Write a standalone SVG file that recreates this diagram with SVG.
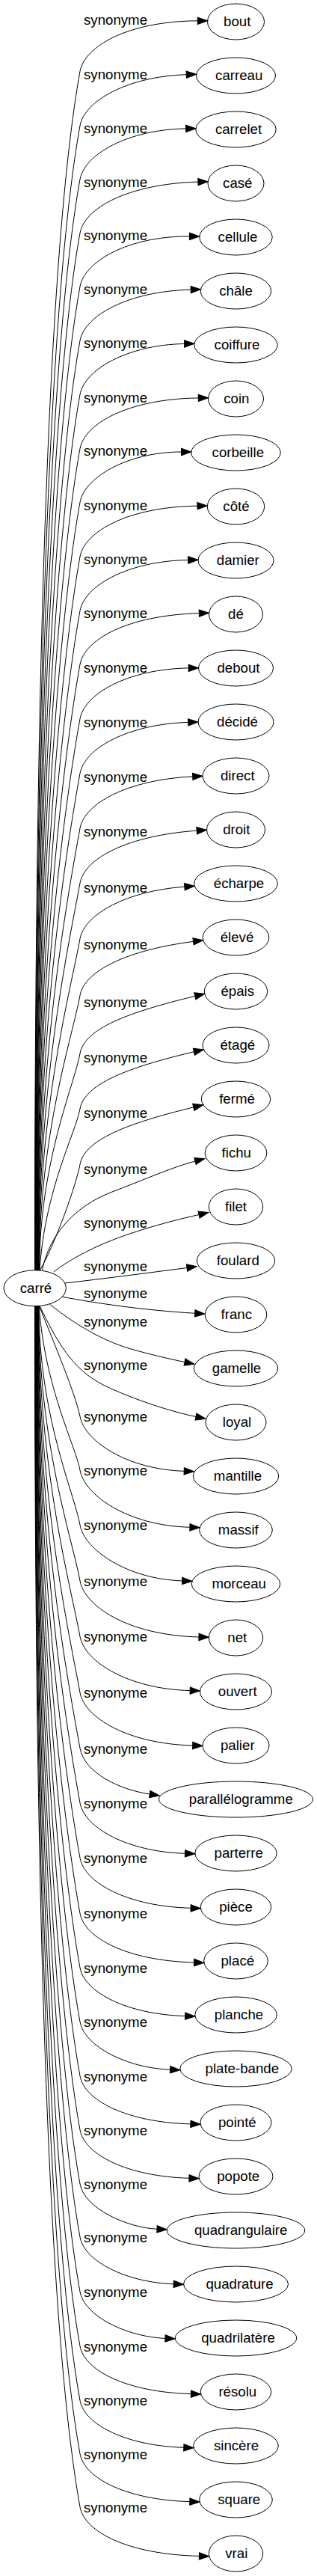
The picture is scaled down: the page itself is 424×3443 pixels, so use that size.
<svg xmlns="http://www.w3.org/2000/svg" width="424" height="3443" viewBox="0 0 424 3443">
<defs>
<style>
.node ellipse{fill:none;stroke:#000;stroke-width:1}
text{font-family:"Liberation Sans",Arial,sans-serif;font-size:18.67px;fill:#000;text-anchor:middle}
.edges path{fill:none;stroke:#000;stroke-width:1;marker-end:url(#arr)}
</style>
<marker id="arr" markerUnits="userSpaceOnUse" markerWidth="14" markerHeight="10" refX="0" refY="4.7" orient="auto" overflow="visible">
<path d="M0,0 L13.3,4.7 L0,9.4 Z" fill="#000" stroke="#000" stroke-width="1"/>
</marker>
</defs>
<rect x="0" y="0" width="424" height="3443" fill="#fff"/>
<g id="edges" class="edges">
<path d="M46.5,1698 C46.5,896.6 64.6,330.9 107,95.3 C113,62.3 170,28.5 264.3,27.8"/>
<path d="M46.9,1698 C46.9,933 66.5,392.9 107,168 C113,135 170,102.3 249.3,99.7"/>
<path d="M47.2,1698 C47.2,968.8 68.4,454.1 107,239.7 C113,206.7 170,173.3 248.6,171.9"/>
<path d="M47.6,1698 C47.6,1004.7 70.3,515.3 107,311.5 C113,278.5 170,245.9 264.9,243.1"/>
<path d="M47.9,1698 C47.9,1040.5 72.2,576.3 107,383 C113,350 170,315.6 253.5,315.9"/>
<path d="M48.3,1698 C48.3,1076.6 74.1,638 107,455.3 C113,422.3 170,389.5 255.2,387.1"/>
<path d="M48.6,1698 C48.6,1112.6 76,699.4 107,527.3 C113,494.3 170,460.9 246.6,459.5"/>
<path d="M49,1698 C49,1148.8 77.9,761.2 107,599.7 C113,566.7 170,533.3 265.3,531.9"/>
<path d="M49.3,1698 C49.3,1184.6 79.8,822.2 107,671.3 C113,638.3 170,604.2 242.5,604"/>
<path d="M49.7,1698 C49.7,1221 81.8,884.2 107,744 C113,711 170,677.6 264,676.2"/>
<path d="M50,1698 C50,1257.1 83.7,945.9 107,816.3 C113,783.3 170,749.9 251.7,748.5"/>
<path d="M50.4,1698 C50.4,1293 85.6,1007.1 107,888 C113,855 170,822.3 266.3,819.7"/>
<path d="M50.7,1698 C50.7,1329.3 87.5,1069.1 107,960.7 C113,927.7 170,894.3 252.2,892.9"/>
<path d="M51,1698 C51,1365.8 89.4,1131.4 107,1033.7 C113,1000.7 170,968 251.7,965.4"/>
<path d="M51.4,1698 C51.4,1402.5 91.4,1193.9 107,1107 C113,1074 170,1042.3 257.7,1037.9"/>
<path d="M51.7,1698 C51.7,1439.1 93.3,1256.4 107,1180.3 C113,1147.3 170,1116.9 263.2,1110.2"/>
<path d="M52,1698 C52,1476.3 95.3,1319.9 107,1254.7 C113,1221.7 170,1190.7 246.9,1185.2"/>
<path d="M52.4,1698 C52.4,1514.2 97.3,1384.5 107,1330.5 C113,1297.5 170,1269.9 258.5,1258.4"/>
<path d="M52.7,1698 C52.7,1553 99.3,1450.6 107,1408 C113,1375 170,1353.3 260.8,1331.4"/>
<path d="M53,1698 C60,1590 101.3,1513.8 107,1482 C113,1449 170,1426.9 259.4,1405.8"/>
<path d="M53.4,1698 C75,1660 103,1580 107,1556.3 C113,1523.3 170,1501.5 258.8,1479.9"/>
<path d="M56.5,1697.5 C66,1650 100,1612 150,1593 C185,1580 230,1560 261,1552"/>
<path d="M71.7,1700 C85,1690 100,1680 130,1666 C165,1650 215,1635 266,1623.5"/>
<path d="M86.7,1715 C140,1709 200,1701 250,1694.5"/>
<path d="M83.3,1733.3 C130,1742 190,1751 260.7,1755.3"/>
<path d="M66.7,1743.3 C90,1762 130,1790 175,1803 C200,1810 225,1816 247,1820.5"/>
<path d="M53.3,1746 C75,1790 95,1830 140,1852 C180,1871 230,1887 262,1893.5"/>
<path d="M52.5,1745.4 C70,1790 100,1860 107,1893 C113,1926 170,1964 246.2,1966.3"/>
<path d="M52.2,1745.4 C60,1855.2 101.2,1932.7 107,1965 C113,1998 170,2039 253.9,2041.3"/>
<path d="M51.9,1745.4 C51.9,1891.9 99.2,1995.2 107,2038.3 C113,2071.3 170,2110.6 243.7,2112.9"/>
<path d="M51.6,1745.4 C51.6,1929.2 97.3,2059 107,2113 C113,2146 170,2185.6 266,2188"/>
<path d="M51.3,1745.4 C51.3,1966.4 95.3,2122.3 107,2187.3 C113,2220.3 170,2257.3 254.2,2259.6"/>
<path d="M51,1745.4 C51,2003.9 93.3,2186.3 107,2262.3 C113,2295.3 170,2330.6 257.7,2333"/>
<path d="M50.7,1745.4 C50.7,2041 91.4,2249.8 107,2336.7 C113,2369.7 160,2392 200.3,2398"/>
<path d="M50.4,1745.4 C50.4,2077.6 89.4,2312 107,2409.7 C113,2442.7 170,2475 247.5,2477.3"/>
<path d="M50.1,1745.4 C50.1,2114.4 87.5,2374.8 107,2483.3 C113,2516.3 170,2548 255.1,2550.3"/>
<path d="M49.8,1745.4 C49.8,2151.4 85.5,2438 107,2557.3 C113,2590.3 170,2620.6 259.6,2623"/>
<path d="M49.5,1745.4 C49.5,2187.7 83.6,2500 107,2630 C113,2663 170,2692.3 247.7,2694.6"/>
<path d="M49.2,1745.4 C49.2,2223.9 81.7,2561.6 107,2702.3 C113,2735.3 170,2764 227.7,2766.2"/>
<path d="M48.9,1745.4 C48.9,2260.1 79.8,2623.4 107,2774.7 C113,2807.7 170,2836.6 254.9,2838.9"/>
<path d="M48.6,1745.4 C48.6,2296.1 77.9,2684.8 107,2846.7 C113,2879.7 170,2909 253,2911.3"/>
<path d="M48.3,1745.4 C48.3,2332.2 76,2746.5 107,2919 C113,2952 170,2977.3 210,2979.3"/>
<path d="M48,1745.4 C48,2367.7 74.1,2807 107,2990 C113,3023 170,3050.6 232.2,3052.8"/>
<path d="M47.7,1745.4 C47.7,2404.2 72.1,2869.3 107,3063 C113,3096 170,3123.3 221,3125.4"/>
<path d="M47.4,1745.4 C47.4,2440.6 70.2,2931.3 107,3135.7 C113,3168.7 170,3197.3 255.4,3199.6"/>
<path d="M47.1,1745.4 C47.1,2476.9 68.3,2993.3 107,3208.3 C113,3241.3 170,3269 245.8,3271.3"/>
<path d="M46.8,1745.4 C46.8,2512.6 66.4,3054.2 107,3279.7 C113,3312.7 170,3341.3 253.8,3343.6"/>
<path d="M46.5,1745.4 C46.5,2548.1 64.5,3114.7 107,3350.7 C113,3383.7 170,3414 266.4,3416.4"/>
<text x="154.5" y="33.3">synonyme</text>
<text x="154.5" y="106">synonyme</text>
<text x="154.5" y="177.7">synonyme</text>
<text x="154.5" y="249.5">synonyme</text>
<text x="154.5" y="321">synonyme</text>
<text x="154.5" y="393.3">synonyme</text>
<text x="154.5" y="465.3">synonyme</text>
<text x="154.5" y="537.7">synonyme</text>
<text x="154.5" y="609.3">synonyme</text>
<text x="154.5" y="682">synonyme</text>
<text x="154.5" y="754.3">synonyme</text>
<text x="154.5" y="826">synonyme</text>
<text x="154.5" y="898.7">synonyme</text>
<text x="154.5" y="971.7">synonyme</text>
<text x="154.5" y="1045">synonyme</text>
<text x="154.5" y="1118.3">synonyme</text>
<text x="154.5" y="1192.7">synonyme</text>
<text x="154.5" y="1268.5">synonyme</text>
<text x="154.5" y="1346">synonyme</text>
<text x="154.5" y="1420">synonyme</text>
<text x="154.5" y="1494.3">synonyme</text>
<text x="154.5" y="1568.7">synonyme</text>
<text x="154.5" y="1641">synonyme</text>
<text x="154.5" y="1698.7">synonyme</text>
<text x="154.5" y="1735.3">synonyme</text>
<text x="154.5" y="1772.7">synonyme</text>
<text x="154.5" y="1831">synonyme</text>
<text x="154.5" y="1900">synonyme</text>
<text x="154.5" y="1972">synonyme</text>
<text x="154.5" y="2045.3">synonyme</text>
<text x="154.5" y="2120">synonyme</text>
<text x="154.5" y="2194.3">synonyme</text>
<text x="154.5" y="2269.3">synonyme</text>
<text x="154.5" y="2343.7">synonyme</text>
<text x="154.5" y="2416.7">synonyme</text>
<text x="154.5" y="2490.3">synonyme</text>
<text x="154.5" y="2564.3">synonyme</text>
<text x="154.5" y="2637">synonyme</text>
<text x="154.5" y="2709.3">synonyme</text>
<text x="154.5" y="2781.7">synonyme</text>
<text x="154.5" y="2853.7">synonyme</text>
<text x="154.5" y="2926">synonyme</text>
<text x="154.5" y="2997">synonyme</text>
<text x="154.5" y="3070">synonyme</text>
<text x="154.5" y="3142.7">synonyme</text>
<text x="154.5" y="3215.3">synonyme</text>
<text x="154.5" y="3286.7">synonyme</text>
<text x="154.5" y="3357.7">synonyme</text>
</g>
<g id="n-carre" class="node"><ellipse cx="46.7" cy="1721.7" rx="41.7" ry="24"/><text x="48" y="1727.5">carré</text></g>
<g id="n-bout" class="node"><ellipse cx="315.5" cy="29" rx="38" ry="24"/><text x="317.2" y="35">bout</text></g>
<g id="n-carreau" class="node"><ellipse cx="315.5" cy="101" rx="53" ry="24"/><text x="319.7" y="107">carreau</text></g>
<g id="n-carrelet" class="node"><ellipse cx="315.5" cy="173" rx="53.7" ry="24"/><text x="319" y="179">carrelet</text></g>
<g id="n-case" class="node"><ellipse cx="315.5" cy="245" rx="37.5" ry="24"/><text x="317.8" y="251">casé</text></g>
<g id="n-cellule" class="node"><ellipse cx="315.5" cy="317" rx="48.7" ry="24"/><text x="318" y="323">cellule</text></g>
<g id="n-chale" class="node"><ellipse cx="315.5" cy="389" rx="47.2" ry="24"/><text x="315.5" y="395">châle</text></g>
<g id="n-coiffure" class="node"><ellipse cx="315.5" cy="461" rx="55.7" ry="24"/><text x="317" y="467">coiffure</text></g>
<g id="n-coin" class="node"><ellipse cx="315.5" cy="533" rx="37" ry="24"/><text x="316.3" y="539">coin</text></g>
<g id="n-corbeille" class="node"><ellipse cx="315.5" cy="605" rx="59.8" ry="24"/><text x="318.3" y="611">corbeille</text></g>
<g id="n-cote" class="node"><ellipse cx="315.5" cy="677" rx="38.2" ry="24"/><text x="316" y="683">côté</text></g>
<g id="n-damier" class="node"><ellipse cx="315.5" cy="749" rx="50.5" ry="24"/><text x="318.3" y="755">damier</text></g>
<g id="n-de" class="node"><ellipse cx="315.5" cy="821" rx="36" ry="24"/><text x="315.5" y="827">dé</text></g>
<g id="n-debout" class="node"><ellipse cx="315.5" cy="893" rx="50" ry="24"/><text x="319" y="899">debout</text></g>
<g id="n-decide" class="node"><ellipse cx="315.5" cy="965" rx="50.5" ry="24"/><text x="317.5" y="971">décidé</text></g>
<g id="n-direct" class="node"><ellipse cx="315.5" cy="1037" rx="44.5" ry="24"/><text x="317.8" y="1043">direct</text></g>
<g id="n-droit" class="node"><ellipse cx="315.5" cy="1109" rx="39" ry="24"/><text x="316.3" y="1115">droit</text></g>
<g id="n-echarpe" class="node"><ellipse cx="315.5" cy="1181" rx="55.8" ry="24"/><text x="319.5" y="1187">écharpe</text></g>
<g id="n-eleve" class="node"><ellipse cx="315.5" cy="1253" rx="44.3" ry="24"/><text x="317" y="1259">élevé</text></g>
<g id="n-epais" class="node"><ellipse cx="315.5" cy="1325" rx="42.2" ry="24"/><text x="317.8" y="1331">épais</text></g>
<g id="n-etage" class="node"><ellipse cx="315.5" cy="1397" rx="44.5" ry="24"/><text x="317.8" y="1403">étagé</text></g>
<g id="n-ferme" class="node"><ellipse cx="315.5" cy="1469" rx="46.2" ry="24"/><text x="317" y="1475">fermé</text></g>
<g id="n-fichu" class="node"><ellipse cx="315.5" cy="1541" rx="41.3" ry="24"/><text x="316.3" y="1547">fichu</text></g>
<g id="n-filet" class="node"><ellipse cx="315.5" cy="1613" rx="36.2" ry="24"/><text x="315.5" y="1619">filet</text></g>
<g id="n-foulard" class="node"><ellipse cx="315.5" cy="1685" rx="52.2" ry="24"/><text x="318.3" y="1691">foulard</text></g>
<g id="n-franc" class="node"><ellipse cx="315.5" cy="1757" rx="41.3" ry="24"/><text x="316.3" y="1763">franc</text></g>
<g id="n-gamelle" class="node"><ellipse cx="315.5" cy="1829" rx="56.2" ry="24"/><text x="316.5" y="1835">gamelle</text></g>
<g id="n-loyal" class="node"><ellipse cx="315.5" cy="1901" rx="40.5" ry="24"/><text x="317" y="1907">loyal</text></g>
<g id="n-mantille" class="node"><ellipse cx="315.5" cy="1973" rx="57.2" ry="24"/><text x="318" y="1979">mantille</text></g>
<g id="n-massif" class="node"><ellipse cx="315.5" cy="2045" rx="48.8" ry="24"/><text x="318.8" y="2051">massif</text></g>
<g id="n-morceau" class="node"><ellipse cx="315.5" cy="2117" rx="59.2" ry="24"/><text x="319.7" y="2123">morceau</text></g>
<g id="n-net" class="node"><ellipse cx="315.5" cy="2189" rx="36.2" ry="24"/><text x="317.3" y="2195">net</text></g>
<g id="n-ouvert" class="node"><ellipse cx="315.5" cy="2261" rx="48" ry="24"/><text x="317.7" y="2267">ouvert</text></g>
<g id="n-palier" class="node"><ellipse cx="315.5" cy="2333" rx="44.5" ry="24"/><text x="317.8" y="2339">palier</text></g>
<g id="n-parallelogramme" class="node"><ellipse cx="315.5" cy="2405" rx="103" ry="24"/><text x="322.3" y="2411">parallélogramme</text></g>
<g id="n-parterre" class="node"><ellipse cx="315.5" cy="2477" rx="54.7" ry="24"/><text x="319.2" y="2483">parterre</text></g>
<g id="n-piece" class="node"><ellipse cx="315.5" cy="2549" rx="47.2" ry="24"/><text x="315.5" y="2555">pièce</text></g>
<g id="n-place" class="node"><ellipse cx="315.5" cy="2621" rx="42.8" ry="24"/><text x="317.8" y="2627">placé</text></g>
<g id="n-planche" class="node"><ellipse cx="315.5" cy="2693" rx="54.7" ry="24"/><text x="319.5" y="2699">planche</text></g>
<g id="n-plate-bande" class="node"><ellipse cx="315.5" cy="2765" rx="74.7" ry="24"/><text x="323.8" y="2771">plate-bande</text></g>
<g id="n-pointe" class="node"><ellipse cx="315.5" cy="2837" rx="47.5" ry="24"/><text x="317.3" y="2843">pointé</text></g>
<g id="n-popote" class="node"><ellipse cx="315.5" cy="2909" rx="49.5" ry="24"/><text x="318.7" y="2915">popote</text></g>
<g id="n-quadrangulaire" class="node"><ellipse cx="315.5" cy="2981" rx="92.3" ry="24"/><text x="322.2" y="2987">quadrangulaire</text></g>
<g id="n-quadrature" class="node"><ellipse cx="315.5" cy="3053" rx="70" ry="24"/><text x="320.5" y="3059">quadrature</text></g>
<g id="n-quadrilatere" class="node"><ellipse cx="315.5" cy="3125" rx="81.2" ry="24"/><text x="318.5" y="3131">quadrilatère</text></g>
<g id="n-resolu" class="node"><ellipse cx="315.5" cy="3197" rx="47.2" ry="24"/><text x="317.8" y="3203">résolu</text></g>
<g id="n-sincere" class="node"><ellipse cx="315.5" cy="3269" rx="56.8" ry="24"/><text x="316" y="3275">sincère</text></g>
<g id="n-square" class="node"><ellipse cx="315.5" cy="3341" rx="48.8" ry="24"/><text x="319.7" y="3347">square</text></g>
<g id="n-vrai" class="node"><ellipse cx="315.5" cy="3413" rx="36.2" ry="24"/><text x="316.3" y="3419">vrai</text></g>
</svg>
